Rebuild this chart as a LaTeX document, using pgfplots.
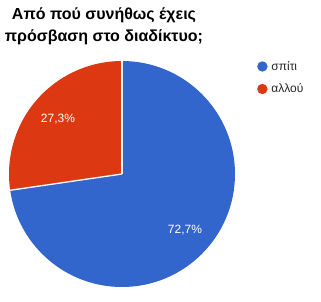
\documentclass[border=0pt]{standalone}
\usepackage{pgfplots}
\pgfplotsset{compat=1.18}
\usepackage{pgfplotstable}
\usepackage{fontspec}
\setmainfont{Liberation Sans}
\definecolor{pieblue}{HTML}{3366CC}
\definecolor{piered}{HTML}{DC3912}
\pgfplotstableread{
value
72.7
27.3
}\piedata
\begin{document}
\begin{tikzpicture}
\pgfplotstablegetelem{0}{value}\of\piedata
\pgfmathsetmacro{\va}{\pgfplotsretval}
\pgfmathsetmacro{\enda}{90-3.6*\va}
\begin{axis}[scale only axis, width=321pt, height=301pt,
  xmin=0, xmax=321, ymin=0, ymax=301,
  axis lines=none, ticks=none, clip=false,
  legend style={at={(axis cs:257,242)}, anchor=north west, draw=none, fill=none,
    font=\fontsize{12}{14}\selectfont, text=black!85, row sep=8pt, inner sep=0pt,
    cells={anchor=west}},
  legend image code/.code={\fill[#1] (5pt,0pt) circle (5.2pt); \path (0pt,0pt) -- (12pt,0pt);},
]
\addlegendimage{fill=pieblue, draw=none}
\addlegendentry{σπίτι}
\addlegendimage{fill=piered, draw=none}
\addlegendentry{αλλού}
\coordinate (bl) at (axis cs:0,0);
\coordinate (tr) at (axis cs:321,301);
\fill[pieblue] (axis cs:122,127) -- ++(90:113pt) arc[start angle=90, end angle=\enda, radius=113pt] -- cycle;
\fill[piered] (axis cs:122,127) -- ++(\enda:113pt) arc[start angle=\enda, end angle=-270, radius=113pt] -- cycle;
\draw[white, line width=1.3pt] (axis cs:122,127) -- ++(90:113pt);
\draw[white, line width=1.3pt] (axis cs:122,127) -- ++(\enda:113pt);
\node[white, font=\fontsize{12}{14}\selectfont] at (axis cs:58,182) {27,3\%};
\node[white, font=\fontsize{12}{14}\selectfont] at (axis cs:185,71) {72,7\%};
\node[anchor=base, font=\bfseries\fontsize{16}{20}\selectfont, text=black] at (axis cs:104,282) {Από πού συνήθως έχεις};
\node[anchor=base, font=\bfseries\fontsize{16}{20}\selectfont, text=black] at (axis cs:104,260) {πρόσβαση στο διαδίκτυο;};
\end{axis}
\pgfresetboundingbox
\useasboundingbox (bl) rectangle (tr);
\end{tikzpicture}
\end{document}
